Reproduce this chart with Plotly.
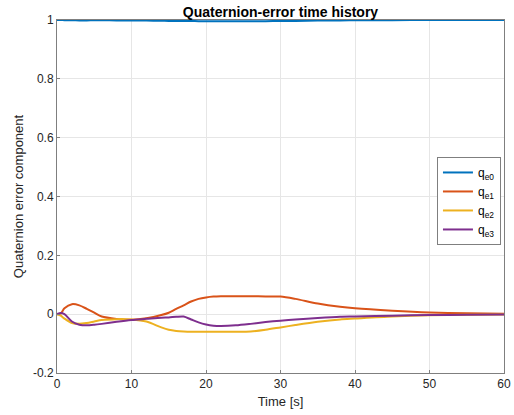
import plotly.graph_objects as go

t = [0, 0.5, 1, 2, 3, 4, 5, 6, 8, 10, 12, 14, 15, 16, 17, 18, 19, 20, 21, 22, 24, 26, 28, 30, 32, 35, 38, 40, 45, 50, 55, 60]
qe0 = [1.0, 1.0, 0.9995, 0.999, 0.9985, 0.9985, 0.999, 0.999, 0.9985, 0.998, 0.998, 0.9975, 0.997, 0.997, 0.9965, 0.9965, 0.996, 0.996, 0.996, 0.996, 0.996, 0.996, 0.996, 0.9965, 0.997, 0.998, 0.9985, 0.999, 0.9995, 0.9998, 1.0, 1.0]
qe1 = [0.0, 0.002, 0.02, 0.034, 0.03, 0.018, 0.005, -0.008, -0.016, -0.019, -0.014, -0.003, 0.005, 0.018, 0.030, 0.043, 0.052, 0.057, 0.060, 0.061, 0.061, 0.061, 0.060, 0.060, 0.052, 0.036, 0.025, 0.020, 0.012, 0.006, 0.003, 0.001]
qe2 = [0.0, -0.005, -0.015, -0.030, -0.033, -0.030, -0.025, -0.020, -0.017, -0.018, -0.025, -0.045, -0.053, -0.057, -0.059, -0.060, -0.060, -0.060, -0.060, -0.060, -0.060, -0.059, -0.053, -0.045, -0.037, -0.026, -0.018, -0.015, -0.008, -0.004, -0.002, -0.001]
qe3 = [0.0, 0.004, 0.0, -0.025, -0.036, -0.038, -0.036, -0.033, -0.026, -0.020, -0.016, -0.012, -0.011, -0.009, -0.008, -0.018, -0.028, -0.035, -0.039, -0.040, -0.038, -0.033, -0.027, -0.022, -0.018, -0.013, -0.009, -0.008, -0.005, -0.003, -0.002, -0.001]

names = ["q<sub>e0</sub>", "q<sub>e1</sub>", "q<sub>e2</sub>", "q<sub>e3</sub>"]
colors = ["#0072BD", "#D95319", "#EDB120", "#7E2F8E"]
xticks = [0, 10, 20, 30, 40, 50, 60]
yticks = [-0.2, 0, 0.2, 0.4, 0.6, 0.8, 1]
yticktext = ["-0.2", "0", "0.2", "0.4", "0.6", "0.8", "1"]

fig = go.Figure()
for series, name, color in zip([qe0, qe1, qe2, qe3], names, colors):
    fig.add_trace(go.Scatter(x=t, y=series, mode="lines", name=name,
                             line=dict(color=color, width=2, shape="spline", smoothing=0.8)))

font_family = "Liberation Sans, Arial, sans-serif"
fig.update_layout(
    width=514, height=415,
    margin=dict(l=57, r=10, t=20, b=42, autoexpand=False),
    paper_bgcolor="white", plot_bgcolor="white",
    font=dict(family=font_family, size=12, color="#262626"),
    title=dict(text="<b>Quaternion-error time history</b>", xref="paper", x=0.5, xanchor="center",
               yref="container", y=0.971, yanchor="middle", font=dict(size=14, color="black")),
    showlegend=True,
    legend=dict(x=0.85, y=0.612, xanchor="left", yanchor="top",
                bordercolor="#7f7f7f", borderwidth=1, bgcolor="white",
                font=dict(size=12, color="black"), tracegroupgap=0, itemwidth=30),
)
fig.update_xaxes(range=[0, 60], tickvals=xticks, showgrid=True, gridcolor="#e6e6e6",
                 showline=True, linecolor="#7f7f7f", mirror=True, ticks="inside",
                 ticklen=3, tickcolor="#7f7f7f", zeroline=False, automargin=False,
                 title=dict(text="Time [s]", font=dict(size=13), standoff=6),
                 tickfont=dict(size=12))
fig.update_yaxes(range=[-0.2, 1], tickvals=yticks, ticktext=yticktext, showgrid=True,
                 gridcolor="#e6e6e6", showline=True, linecolor="#7f7f7f", mirror=True,
                 ticks="inside", ticklen=3, tickcolor="#7f7f7f", zeroline=False, automargin=False,
                 title=dict(text="Quaternion error component", font=dict(size=13), standoff=6),
                 tickfont=dict(size=12))

fig.write_html("out.html", config={"displayModeBar": False},
               post_script="document.body.style.margin='0';")
